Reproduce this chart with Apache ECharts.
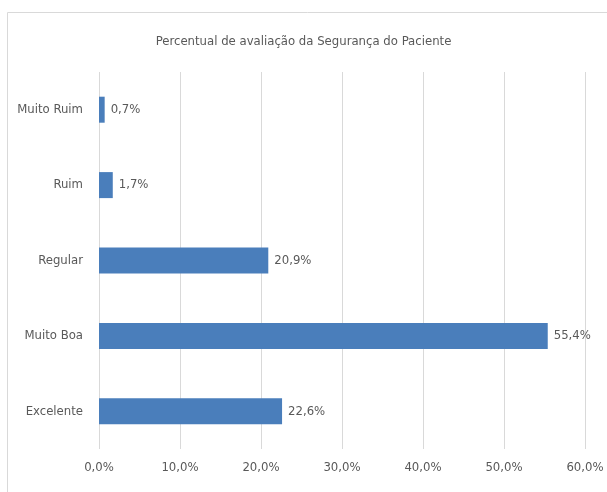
<!DOCTYPE html>
<html>
<head>
<meta charset="utf-8">
<script src="https://cdn.jsdelivr.net/npm/echarts@6/dist/echarts.min.js"></script>
<style>
  html, body { margin: 0; padding: 0; background: #fff; }
  #chart { width: 607px; height: 492px; }
</style>
</head>
<body>
<div id="chart"></div>
<script>
    // dados
    var categorias = ['Muito Ruim', 'Ruim', 'Regular', 'Muito Boa', 'Excelente'];
    var percentuais = [0.7, 1.7, 20.9, 55.4, 22.6];
    var tituloTexto = 'Percentual de avaliação da Segurança do Paciente';

    var fonte = '"Liberation Sans Narrow", "DejaVu Sans Condensed", sans-serif';
    var corTexto = '#595959';

    var chart = echarts.init(document.getElementById('chart'));
    var option = {
        animation: false,
        title: {
            text: tituloTexto,
            left: 'center',
            top: 30,
            textStyle: { fontFamily: fonte, fontSize: 13, fontWeight: 'normal', color: corTexto }
        },
        graphic: [{
            type: 'rect',
            shape: { x: 7.5, y: 12.5, width: 620, height: 500 },
            style: { fill: 'none', stroke: '#d9d9d9', lineWidth: 1 },
            silent: true
        }],
        grid: { left: 99, right: 22, top: 72, bottom: 43 },
        xAxis: {
            type: 'value',
            min: 0,
            max: 60,
            interval: 10,
            axisLine: { show: false },
            axisTick: { show: false },
            splitLine: { lineStyle: { color: '#d9d9d9' } },
            axisLabel: {
                margin: 12,
                fontFamily: fonte, fontSize: 13, color: corTexto,
                formatter: function (v) { return v.toFixed(1).replace('.', ',') + '%'; }
            }
        },
        yAxis: {
            type: 'category',
            data: categorias,
            inverse: true,
            axisLine: { show: false },
            axisTick: { show: false },
            axisLabel: { margin: 16, fontFamily: fonte, fontSize: 13, color: corTexto }
        },
        series: [{
            type: 'bar',
            data: percentuais,
            barWidth: 26,
            itemStyle: { color: '#4a7ebb' },
            label: {
                show: true,
                position: 'right',
                distance: 6,
                fontFamily: fonte, fontSize: 13, color: corTexto,
                formatter: function (p) { return p.value.toFixed(1).replace('.', ',') + '%'; }
            }
        }]
    };
    chart.setOption(option);
</script>
</body>
</html>
